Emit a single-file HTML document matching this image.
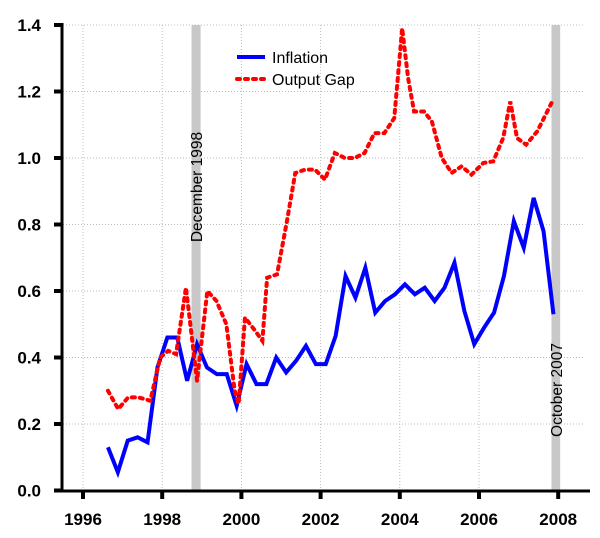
<!DOCTYPE html>
<html><head><meta charset="utf-8"><style>body{margin:0;background:#fff}svg{display:block}text{font-family:"Liberation Sans",sans-serif}</style></head>
<body>
<svg id="chart" width="600" height="538">
<g id="grid"></g>
<g id="bands"></g>
<g id="series"></g>
<g id="axes"></g>
<g>
<line x1="237" y1="57" x2="265" y2="57" stroke="#0000ff" stroke-width="4"/>
<text x="272" y="63" font-size="16">Inflation</text>
<line x1="237" y1="79" x2="265" y2="79" stroke="#ff0000" stroke-width="4" stroke-dasharray="3,5" stroke-linecap="round"/>
<text x="272" y="85" font-size="16">Output Gap</text>
</g>
</svg>
<script>
const xTicks=[1996,1998,2000,2002,2004,2006,2008];
const yTicks=[0,0.2,0.4,0.6,0.8,1.0,1.2,1.4];
const inflationStart=1996.63;
const inflation=[0.13,0.055,0.15,0.16,0.145,0.37,0.46,0.46,0.33,0.44,0.37,0.35,0.35,0.255,0.38,0.32,0.32,0.40,0.355,0.39,0.435,0.38,0.38,0.465,0.645,0.58,0.67,0.535,0.57,0.59,0.62,0.59,0.61,0.57,0.61,0.685,0.54,0.44,0.49,0.535,0.645,0.81,0.73,0.88,0.78,0.53];
const gapYears=[1996.63,1996.89,1997.14,1997.4,1997.7,1997.95,1998.15,1998.35,1998.6,1998.88,1999.14,1999.37,1999.62,1999.83,1999.93,2000.09,2000.35,2000.53,2000.65,2000.9,2001.15,2001.36,2001.61,2001.86,2002.11,2002.36,2002.61,2002.86,2003.11,2003.36,2003.61,2003.86,2004.06,2004.21,2004.36,2004.61,2004.81,2005.06,2005.31,2005.56,2005.81,2006.11,2006.36,2006.61,2006.79,2006.96,2007.19,2007.47,2007.85];
const gap=[0.30,0.245,0.28,0.28,0.27,0.40,0.42,0.41,0.61,0.33,0.60,0.57,0.50,0.30,0.26,0.52,0.48,0.45,0.64,0.65,0.81,0.955,0.965,0.965,0.935,1.015,1.0,1.0,1.015,1.075,1.075,1.12,1.39,1.24,1.14,1.14,1.11,1.0,0.955,0.975,0.95,0.985,0.99,1.06,1.17,1.06,1.04,1.08,1.17];
const bands=[[1998.74,1998.97,"December 1998"],[2007.83,2008.05,"October 2007"]];
const NS="http://www.w3.org/2000/svg";
const X=v=>83+(v-1996)*39.6, Y=v=>490.5-v*332.5;
function mk(p,t,a){const e=document.createElementNS(NS,t);for(const k in a)e.setAttribute(k,a[k]);document.getElementById(p).appendChild(e);return e;}
yTicks.slice(1).forEach(v=>{const l=mk('grid','line',{x1:63,x2:585,y1:Y(v),y2:Y(v),stroke:'#bbb','stroke-dasharray':'1,2'});

});
xTicks.forEach(v=>{const l=mk('grid','line',{x1:X(v),x2:X(v),y1:Y(1.4),y2:490,stroke:'#bbb','stroke-dasharray':'1,2'});

});
bands.forEach((b,i)=>{const r=mk('bands','rect',{x:X(b[0]),y:Y(1.4),width:X(b[1])-X(b[0]),height:490-Y(1.4),fill:'#c8c8c8'});


const cx=(X(b[0])+X(b[1]))/2+6, cy=i==0?187:390;
const t=mk('bands','text',{x:cx,y:cy,'font-size':15.5,'text-anchor':'middle',transform:`rotate(-90 ${cx} ${cy})`});t.textContent=b[2];

});
const pi=inflation.map((v,i)=>X(inflationStart+i*0.25)+','+Y(v)).join(' ');
const p1=mk('series','polyline',{points:pi,fill:'none',stroke:'#0000ff','stroke-width':4,'stroke-linejoin':'miter'});


const pg=gap.map((v,i)=>X(gapYears[i])+','+Y(v)).join(' ');
const p2=mk('series','polyline',{points:pg,fill:'none',stroke:'#ff0000','stroke-width':4,'stroke-dasharray':'3,5','stroke-linecap':'round'});


const ay=mk('axes','line',{x1:62,x2:62,y1:Y(1.4)-2,y2:491,stroke:'#000','stroke-width':3});


const ax=mk('axes','line',{x1:54,x2:590,y1:491,y2:491,stroke:'#000','stroke-width':3});


yTicks.forEach(v=>{const y=Y(v);mk('axes','line',{x1:54,x2:62,y1:y,y2:y,stroke:'#000','stroke-width':4});
const t=mk('axes','text',{x:41,y:y+6,'font-size':17,'font-weight':'bold','text-anchor':'end'});t.textContent=v.toFixed(1);

});
xTicks.forEach(v=>{const x=X(v);mk('axes','line',{x1:x,x2:x,y1:491,y2:499,stroke:'#000','stroke-width':4});
const t=mk('axes','text',{x:x,y:525,'font-size':17,'font-weight':'bold','text-anchor':'middle'});t.textContent=v;

});
</script>
</body></html>
